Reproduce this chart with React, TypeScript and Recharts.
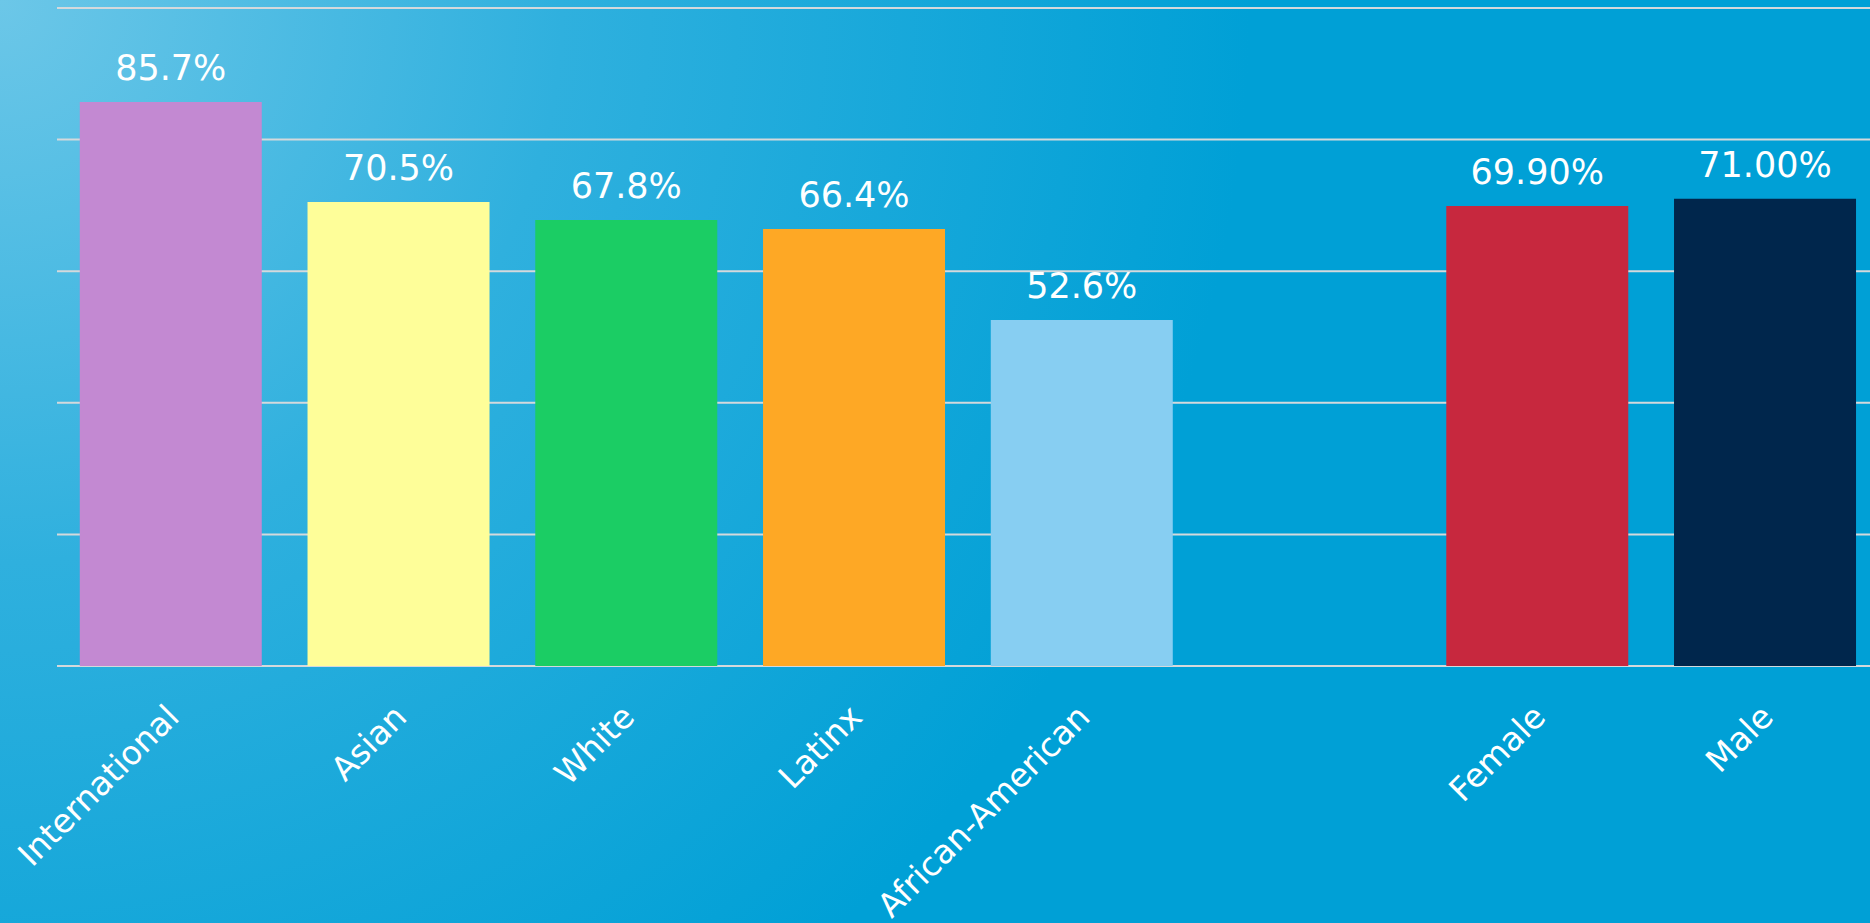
import React from 'react';
import { BarChart, Bar, XAxis, YAxis, CartesianGrid, Cell, LabelList } from 'recharts';

const categories = ['International', 'Asian', 'White', 'Latinx', 'African-American', '', 'Female', 'Male'];
const rates: (number | null)[] = [85.7, 70.5, 67.8, 66.4, 52.6, null, 69.9, 71.0];
const rateLabels = ['85.7%', '70.5%', '67.8%', '66.4%', '52.6%', '', '69.90%', '71.00%'];
const barColors = ['#c389d2', '#fefe99', '#1bcd64', '#fea825', '#87cef2', 'transparent', '#c7283e', '#00264c'];
const yTicks = [0, 20, 40, 60, 80, 100];

const data = categories.map((name, i) => ({
  name,
  rate: rates[i],
  label: rateLabels[i],
}));

const FONT = "'DejaVu Sans', sans-serif";

const Tick = (props: any) => {
  const { x, y, payload } = props;
  if (!payload || !payload.value) return <g />;
  const ax = x + 10;
  const ay = y + 53;
  return (
    <text
      x={ax}
      y={ay}
      transform={`rotate(-45, ${ax}, ${ay})`}
      textAnchor="end"
      fill="#ffffff"
      fontSize={33}
      fontFamily={FONT}
    >
      {payload.value}
    </text>
  );
};

export default function App() {
  return (
    <div
      style={{
        position: 'absolute',
        left: 0,
        top: 0,
        width: 1870,
        height: 923,
        overflow: 'hidden',
        background: 'radial-gradient(circle 1250px at 0px 0px, #6cc7e8 0%, #2fb0de 45%, #00a0d6 100%)',
      }}
    >
      <BarChart
        width={1879}
        height={923}
        data={data}
        margin={{ top: 8, right: 0, left: 57, bottom: 0 }}
        barCategoryGap="10%"
      >
        <CartesianGrid vertical={false} stroke="#d4d9dc" strokeWidth={2} />
        <YAxis hide domain={[0, 100]} ticks={yTicks} width={0} />
        <XAxis
          dataKey="name"
          height={257}
          axisLine={false}
          tickLine={false}
          tickSize={0}
          tickMargin={0}
          interval={0}
          tick={<Tick />}
        />
        <Bar dataKey="rate" isAnimationActive={false}>
          {data.map((d, i) => (
            <Cell key={i} fill={barColors[i]} />
          ))}
          <LabelList
            dataKey="label"
            position="top"
            offset={22}
            fill="#ffffff"
            fontSize={35}
            fontFamily={FONT}
          />
        </Bar>
      </BarChart>
    </div>
  );
}
